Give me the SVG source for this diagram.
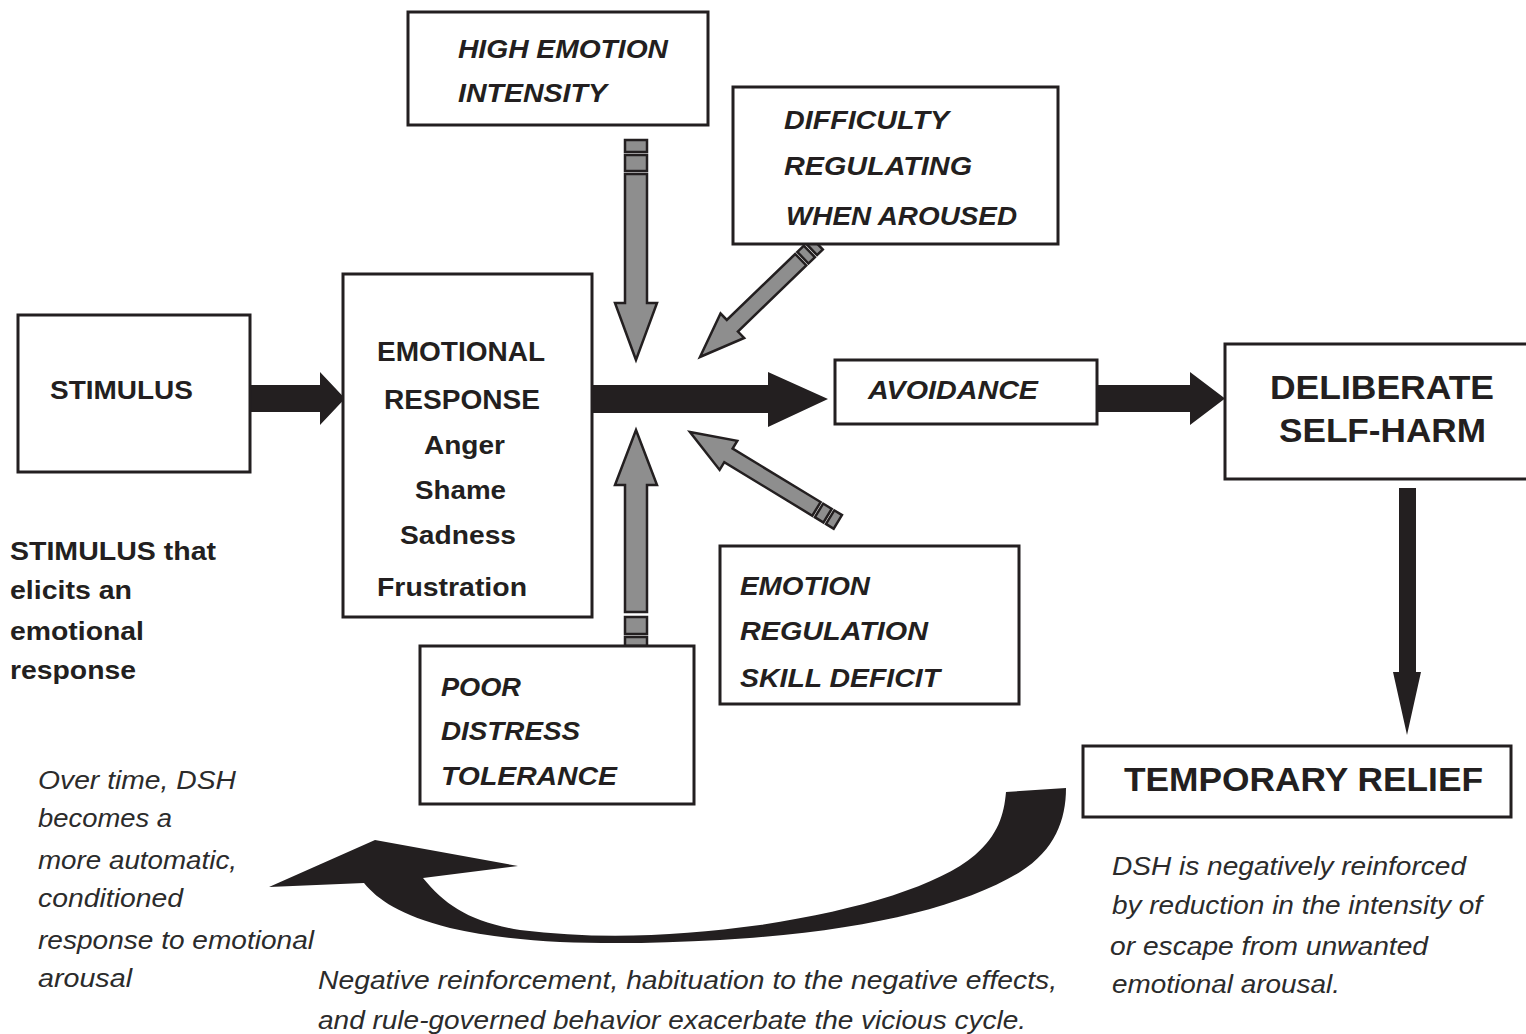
<svg xmlns="http://www.w3.org/2000/svg" width="1526" height="1034" viewBox="0 0 1526 1034">
<style>
.box{fill:#fff;stroke:#231f20;stroke-width:3}
.bt{font-family:"Liberation Sans",Arial,sans-serif;font-weight:bold;fill:#231f20}
.bi{font-family:"Liberation Sans",Arial,sans-serif;font-weight:bold;font-style:italic;fill:#231f20}
.it{font-family:"Liberation Sans",Arial,sans-serif;font-style:italic;fill:#2b2b2b}
.blk{fill:#231f20}
.gray{fill:#8e8e8e;stroke:#231f20;stroke-width:2.5;stroke-linejoin:miter}
</style>
<rect width="1526" height="1034" fill="#fff"/>
<g id="connectors">
  <path class="blk" d="M250,385 H320 V372 L345,398.5 L320,425 V412 H250 Z"/>
  <path class="blk" d="M592,385 H768 V372 L828,399 L768,427 V413 H592 Z"/>
  <path class="blk" d="M1097,385 H1190 V372 L1225,398.5 L1190,425 V412 H1097 Z"/>
  <path class="blk" d="M1399,488 H1416 V672 H1421 L1407,735 L1393,672 H1399 Z"/>
  <!-- gray arrows: local tip at 0, tail toward +x -->
  <g transform="translate(636,360) rotate(-90)">
    <path class="gray" d="M0,0 L57,-21 L57,-11 L186,-11 L186,11 L57,11 L57,21 Z"/>
    <rect class="gray" x="189" y="-11" width="16" height="22"/>
    <rect class="gray" x="208" y="-11" width="12" height="22"/>
  </g>
  <g transform="translate(636,430) rotate(90)">
    <path class="gray" d="M0,0 L55,-21 L55,-11 L182,-11 L182,11 L55,11 L55,21 Z"/>
    <rect class="gray" x="187" y="-11" width="17" height="22"/>
    <rect class="gray" x="207" y="-11" width="9" height="22"/>
  </g>
  <g transform="translate(700,357) rotate(-44)">
    <path class="gray" d="M0,0 L45,-17 L45,-8 L140,-8 L140,8 L45,8 L45,17 Z"/>
    <rect class="gray" x="143" y="-8" width="9" height="16"/>
    <rect class="gray" x="155" y="-8" width="8" height="16"/>
  </g>
  <g transform="translate(690,432) rotate(31.3)">
    <path class="gray" d="M0,0 L45,-17 L45,-8 L148,-8 L148,8 L45,8 L45,17 Z"/>
    <rect class="gray" x="151" y="-8" width="10" height="16"/>
    <rect class="gray" x="164" y="-8" width="9" height="16"/>
  </g>
  <!-- curved feedback arrow -->
  <path class="blk" d="M269,887 L375,840 L518,866 L423,878 C445,905 470,922 520,930 C600,940 680,936 760,925 C860,910 940,885 975,855 C998,835 1004,815 1006,792 L1066,788 C1066,820 1055,850 1020,872 C960,908 860,932 720,940 C610,946 520,944 450,928 C400,915 378,900 364,883 Z"/>
</g>
<g id="high-emotion">
  <rect class="box" x="408" y="12" width="300" height="113"/>
  <text class="bi" x="458" y="58" font-size="26" textLength="210" lengthAdjust="spacingAndGlyphs">HIGH EMOTION</text>
  <text class="bi" x="458" y="102" font-size="26" textLength="149" lengthAdjust="spacingAndGlyphs">INTENSITY</text>
</g>
<g id="difficulty">
  <rect class="box" x="733" y="87" width="325" height="157"/>
  <text class="bi" x="784" y="129" font-size="26" textLength="165" lengthAdjust="spacingAndGlyphs">DIFFICULTY</text>
  <text class="bi" x="784" y="175" font-size="26" textLength="188" lengthAdjust="spacingAndGlyphs">REGULATING</text>
  <text class="bi" x="786" y="225" font-size="26" textLength="231" lengthAdjust="spacingAndGlyphs">WHEN AROUSED</text>
</g>
<g id="stimulus">
  <rect class="box" x="18" y="315" width="232" height="157"/>
  <text class="bt" x="50" y="399" font-size="26" textLength="143" lengthAdjust="spacingAndGlyphs">STIMULUS</text>
</g>
<g id="emotional-response">
  <rect class="box" x="343" y="274" width="249" height="343"/>
  <text class="bt" x="377" y="361" font-size="27" textLength="168" lengthAdjust="spacingAndGlyphs">EMOTIONAL</text>
  <text class="bt" x="384" y="409" font-size="27" textLength="156" lengthAdjust="spacingAndGlyphs">RESPONSE</text>
  <text class="bt" x="424" y="454" font-size="26" textLength="81" lengthAdjust="spacingAndGlyphs">Anger</text>
  <text class="bt" x="415" y="499" font-size="26" textLength="91" lengthAdjust="spacingAndGlyphs">Shame</text>
  <text class="bt" x="400" y="544" font-size="26" textLength="116" lengthAdjust="spacingAndGlyphs">Sadness</text>
  <text class="bt" x="377" y="596" font-size="26" textLength="150" lengthAdjust="spacingAndGlyphs">Frustration</text>
</g>
<g id="avoidance">
  <rect class="box" x="835" y="360" width="262" height="64"/>
  <text class="bi" x="868" y="399" font-size="26" textLength="170" lengthAdjust="spacingAndGlyphs">AVOIDANCE</text>
</g>
<g id="deliberate-self-harm">
  <rect class="box" x="1225" y="344" width="303" height="135"/>
  <text class="bt" x="1270" y="399" font-size="33" textLength="224" lengthAdjust="spacingAndGlyphs">DELIBERATE</text>
  <text class="bt" x="1279" y="442" font-size="33" textLength="207" lengthAdjust="spacingAndGlyphs">SELF-HARM</text>
</g>
<g id="emotion-regulation">
  <rect class="box" x="720" y="546" width="299" height="158"/>
  <text class="bi" x="740" y="595" font-size="26" textLength="130" lengthAdjust="spacingAndGlyphs">EMOTION</text>
  <text class="bi" x="740" y="640" font-size="26" textLength="188" lengthAdjust="spacingAndGlyphs">REGULATION</text>
  <text class="bi" x="740" y="687" font-size="26" textLength="200" lengthAdjust="spacingAndGlyphs">SKILL DEFICIT</text>
</g>
<g id="poor-distress">
  <rect class="box" x="420" y="646" width="274" height="158"/>
  <text class="bi" x="441" y="696" font-size="26" textLength="80" lengthAdjust="spacingAndGlyphs">POOR</text>
  <text class="bi" x="441" y="740" font-size="26" textLength="139" lengthAdjust="spacingAndGlyphs">DISTRESS</text>
  <text class="bi" x="441" y="785" font-size="26" textLength="176" lengthAdjust="spacingAndGlyphs">TOLERANCE</text>
</g>
<g id="temporary-relief">
  <rect class="box" x="1083" y="746" width="428" height="71"/>
  <text class="bt" x="1124" y="791" font-size="33" textLength="359" lengthAdjust="spacingAndGlyphs">TEMPORARY RELIEF</text>
</g>
<g id="note-stimulus">
  <text class="bt" x="10" y="560" font-size="25" textLength="206" lengthAdjust="spacingAndGlyphs">STIMULUS that</text>
  <text class="bt" x="10" y="599" font-size="25" textLength="122" lengthAdjust="spacingAndGlyphs">elicits an</text>
  <text class="bt" x="10" y="640" font-size="25" textLength="134" lengthAdjust="spacingAndGlyphs">emotional</text>
  <text class="bt" x="10" y="679" font-size="25" textLength="126" lengthAdjust="spacingAndGlyphs">response</text>
</g>
<g id="note-over-time">
  <text class="it" x="38" y="789" font-size="25" textLength="198" lengthAdjust="spacingAndGlyphs">Over time, DSH</text>
  <text class="it" x="38" y="827" font-size="25" textLength="134" lengthAdjust="spacingAndGlyphs">becomes a</text>
  <text class="it" x="38" y="869" font-size="25" textLength="199" lengthAdjust="spacingAndGlyphs">more automatic,</text>
  <text class="it" x="38" y="907" font-size="25" textLength="145" lengthAdjust="spacingAndGlyphs">conditioned</text>
  <text class="it" x="38" y="949" font-size="25" textLength="276" lengthAdjust="spacingAndGlyphs">response to emotional</text>
  <text class="it" x="38" y="987" font-size="25" textLength="94" lengthAdjust="spacingAndGlyphs">arousal</text>
</g>
<g id="note-bottom">
  <text class="it" x="318" y="989" font-size="25" textLength="739" lengthAdjust="spacingAndGlyphs">Negative reinforcement, habituation to the negative effects,</text>
  <text class="it" x="318" y="1029" font-size="25" textLength="708" lengthAdjust="spacingAndGlyphs">and rule-governed behavior exacerbate the vicious cycle.</text>
</g>
<g id="note-dsh">
  <text class="it" x="1112" y="875" font-size="25" textLength="354" lengthAdjust="spacingAndGlyphs">DSH is negatively reinforced</text>
  <text class="it" x="1112" y="914" font-size="25" textLength="370" lengthAdjust="spacingAndGlyphs">by reduction in the intensity of</text>
  <text class="it" x="1110" y="955" font-size="25" textLength="318" lengthAdjust="spacingAndGlyphs">or escape from unwanted</text>
  <text class="it" x="1112" y="993" font-size="25" textLength="228" lengthAdjust="spacingAndGlyphs">emotional arousal.</text>
</g>
</svg>
